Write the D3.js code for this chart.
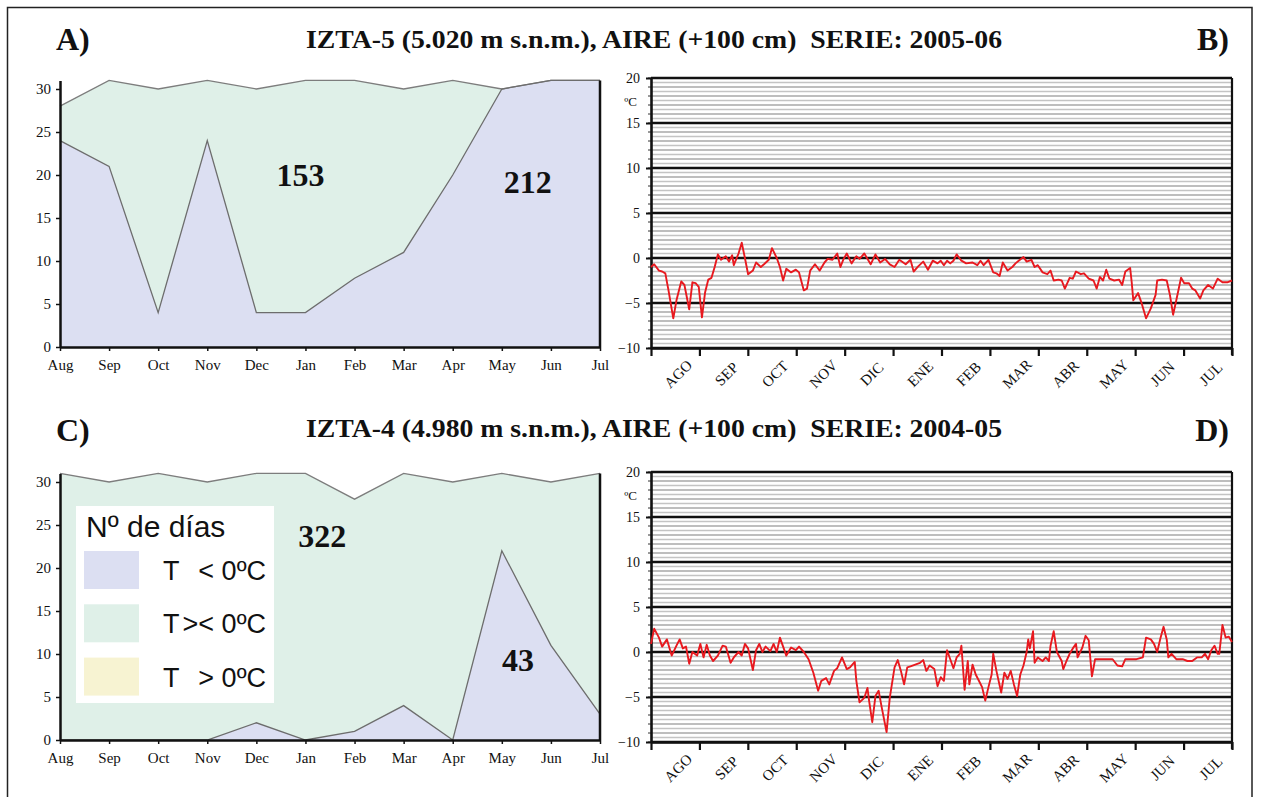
<!DOCTYPE html>
<html><head><meta charset="utf-8">
<script src="https://cdn.jsdelivr.net/npm/d3@7"></script>
<style>
body{margin:0;background:#fff}
svg{display:block}
text{font-family:"Liberation Serif","Times New Roman",serif;fill:#111}
</style>
</head><body><svg id="c" width="1261" height="797"></svg>
<script>
// ---------- data ----------
const months = ["Aug","Sep","Oct","Nov","Dec","Jan","Feb","Mar","Apr","May","Jun","Jul"];
const mesesEs = ["AGO","SEP","OCT","NOV","DIC","ENE","FEB","MAR","ABR","MAY","JUN","JUL"];
const dayTicks = [0,5,10,15,20,25,30];
const tempTicks = [20,15,10,5,0,-5,-10];

// IZTA-5 2005-06 : monthly number of days
const aTotal = [28,31,30,31,30,31,31,30,31,30,31,31];
const aBelow = [24,21,4,24,4,4,8,11,20,30,31,31];
// IZTA-4 2004-05
const cTotal = [31,30,31,30,31,31,28,31,30,31,30,31];
const cBelow = [0,0,0,0,2,0,1,4,0,22,11,3];

const annotA = [{t:"153", m:4.9, v:18.7},{t:"212", m:9.53, v:17.9}];
const annotC = [{t:"322", m:5.34, v:22.4},{t:"43", m:9.33, v:8.0}];

// daily air temperature (day of series, °C)
const bDay = [0,2,5,7,9,11,14,16,19,21,24,26,28,30,32,34,36,38,40,42,44,47,49,51,52,55,57,59,61,64,66,69,71,74,76,79,81,83,85,88,91,93,96,98,100,103,106,109,111,114,117,119,121,123,126,129,131,134,138,141,144,147,150,153,156,160,163,165,168,171,174,177,180,182,184,186,188,190,192,195,198,202,205,207,209,212,215,217,219,221,224,227,229,231,234,236,239,241,243,246,249,251,253,256,258,260,263,265,267,270,272,275,278,280,282,284,286,288,291,294,296,298,301,302,303,306,308,311,314,317,318,321,324,326,328,330,333,335,338,340,342,345,347,350,353,356,359,362,365];
const bTemp = [-1.0,-0.7,-1.4,-1.5,-1.7,-3.6,-6.7,-4.7,-2.6,-3.0,-5.7,-2.7,-2.8,-3.2,-6.6,-3.8,-2.4,-2.2,-1.0,0.4,-0.2,0.2,-0.4,0.3,-0.8,0.5,1.7,0.0,-1.8,-1.4,-0.5,-1.0,-0.7,-0.2,1.1,0.0,-1.0,-2.5,-1.2,-1.6,-1.3,-1.6,-3.6,-3.4,-1.4,-0.7,-1.4,-0.5,-0.1,-0.2,0.5,-1.0,-0.1,0.5,-0.6,0.2,-0.1,0.5,-0.7,0.4,-0.5,-0.1,-0.7,-1.0,-0.2,-0.7,-0.2,-1.5,-0.9,-0.4,-1.3,-0.3,-0.6,-0.3,-0.8,-0.3,-0.6,-0.3,0.4,-0.3,-0.6,-0.5,-0.8,-0.3,-0.8,-0.2,-1.6,-1.7,-2.0,-0.5,-1.4,-1.0,-0.6,-0.3,0.1,-0.4,-0.2,-1.0,-0.8,-1.6,-1.8,-1.4,-2.5,-2.4,-2.5,-3.4,-2.2,-2.3,-1.5,-1.8,-1.7,-2.3,-2.5,-3.4,-2.1,-2.5,-1.3,-2.3,-2.5,-2.4,-3.0,-1.5,-1.1,-2.7,-4.7,-3.9,-4.9,-6.7,-5.6,-4.1,-2.5,-2.4,-2.5,-4.1,-6.3,-4.7,-2.2,-2.8,-2.8,-3.4,-3.6,-4.5,-3.6,-3.0,-3.4,-2.3,-2.7,-2.7,-2.5];

const dDay = [0,2,5,7,10,13,16,18,20,22,24,26,29,31,33,35,37,39,42,45,47,50,52,55,57,59,61,64,66,68,70,72,75,77,79,81,83,85,88,91,93,96,99,102,105,107,110,112,115,117,120,123,125,128,129,131,134,136,137,139,141,143,145,148,150,153,155,157,159,161,163,166,169,171,173,175,178,180,182,184,186,188,190,192,194,195,197,199,200,202,204,206,208,210,212,214,215,217,220,222,224,226,228,230,232,234,236,237,238,240,241,243,246,248,250,251,253,255,258,259,261,263,265,267,268,271,273,275,277,279,282,286,290,293,296,298,302,305,309,311,314,316,318,320,322,324,325,327,330,334,337,340,343,346,348,350,352,354,356,357,359,361,363,365];
const dTemp = [0.9,2.6,1.6,0.6,1.4,-0.4,0.7,1.4,0.4,0.6,-1.3,0.0,-0.4,0.9,-0.6,0.8,-0.4,-1.0,-0.4,0.7,0.6,-1.2,-0.6,0.0,-0.4,0.9,0.4,-2.0,0.2,0.9,0.0,0.6,0.1,0.9,0.0,1.6,0.6,-0.4,0.5,0.2,0.6,0.0,-0.8,-2.3,-4.3,-3.2,-2.9,-3.6,-2.1,-1.8,-0.6,-1.9,-1.7,-1.1,-3.2,-5.6,-5.1,-4.0,-5.4,-7.8,-4.9,-4.3,-6.2,-8.9,-5.1,-1.7,-0.9,-2.1,-3.6,-1.7,-1.6,-1.4,-1.2,-0.9,-2.1,-1.5,-1.9,-3.8,-2.8,-3.2,0.2,-0.8,-1.8,-0.6,-0.2,0.7,-4.2,-1.0,-3.6,-1.4,-2.5,-3.2,-3.9,-5.4,-3.9,-2.5,-0.2,-2.1,-4.5,-2.3,-3.0,-2.1,-3.6,-4.9,-2.5,-1.5,0.0,1.4,0.4,2.3,-1.2,-0.6,-1.0,-0.6,-1.0,0.7,2.3,0.0,-1.0,-1.9,-1.0,-0.2,0.4,0.9,-0.6,0.5,1.8,1.3,-2.7,-0.8,-0.8,-0.8,-0.8,-1.5,-1.6,-0.8,-0.8,-0.8,-0.6,1.6,1.4,0.9,0.0,1.5,2.8,1.4,-0.6,-0.2,-0.8,-0.8,-1.0,-1.0,-0.6,-0.6,-0.2,-0.8,0.2,0.7,-0.2,-0.2,3.0,1.6,1.7,1.1];

const titles = ["IZTA-5 (5.020 m s.n.m.), AIRE (+100 cm)  SERIE: 2005-06",
                "IZTA-4 (4.980 m s.n.m.), AIRE (+100 cm)  SERIE: 2004-05"];
const legendItems = [{label:"< 0ºC", color:"#dcdff2"},
                     {label:">< 0ºC", color:"#dff0e8"},
                     {label:"> 0ºC", color:"#f7f3d2"}];

// ---------- drawing ----------
const svg = d3.select("#c");
const C_BELOW = "#dcdff2", C_MID = "#dff0e8";

// outer frame
svg.append("rect").attr("x",7.5).attr("y",7.5).attr("width",1244.5).attr("height",840)
  .attr("fill","none").attr("stroke","#222").attr("stroke-width",1.5);

function daysPanel(total, below, bottom, annots){
  const g = svg.append("g");
  const x = d3.scalePoint().domain(months).range([60,600]);
  const y = d3.scaleLinear().domain([0,31]).range([bottom, bottom - 31*8.6]);
  const area = d3.area().x((d,i)=>x(months[i])).y0(y(0)).y1(d=>y(d));
  const line = d3.line().x((d,i)=>x(months[i])).y(d=>y(d));
  g.append("path").datum(total).attr("d",area).attr("fill",C_MID);
  g.append("path").datum(below).attr("d",area).attr("fill",C_BELOW);
  g.append("path").datum(total).attr("d",line).attr("fill","none").attr("stroke","#7d7d7d").attr("stroke-width",1.3);
  g.append("path").datum(below).attr("d",line).attr("fill","none").attr("stroke","#6d6d6d").attr("stroke-width",1.3);
  g.append("line").attr("x1",600).attr("x2",600).attr("y1",y(0)).attr("y2",y(31))
    .attr("stroke","#111").attr("stroke-width",2.5);
  const ya = g.append("g").attr("transform","translate(60,0)")
    .call(d3.axisLeft(y).tickValues(dayTicks).tickSize(4).tickSizeOuter(0).tickPadding(5));
  const xa = g.append("g").attr("transform",`translate(0,${bottom})`)
    .call(d3.axisBottom(x).tickSize(4).tickSizeOuter(0).tickPadding(8));
  [ya,xa].forEach(a=>{
    a.select(".domain").attr("stroke","#111").attr("stroke-width",2.5);
    a.selectAll(".tick line").attr("stroke","#111").attr("stroke-width",1.5);
    a.selectAll("text").style("font-family","'Liberation Serif',serif").style("font-size","15px").attr("fill","#222");
  });
  annots.forEach(a=>{
    g.append("text").attr("x",60 + a.m*(540/11)).attr("y",y(a.v)).attr("text-anchor","middle")
      .style("font-size","32px").style("font-weight","bold").text(a.t);
  });
}

function tempPanel(days, temps, bottom){
  const g = svg.append("g");
  const x0 = 651, x1 = 1232;
  const xd = d3.scaleLinear().domain([0,365]).range([x0,x1]);
  const xm = d3.scaleLinear().domain([0,12]).range([x0,x1]);
  const y = d3.scaleLinear().domain([-10,20]).range([bottom, bottom-270]);
  const minor = d3.range(-20,41).map(v=>v/2).filter(v=>v%5!==0);
  g.selectAll(".gl").data(minor).enter().append("line")
    .attr("x1",x0).attr("x2",x1).attr("y1",d=>y(d)).attr("y2",d=>y(d))
    .attr("stroke", d=>Number.isInteger(d)?"#a9a9a9":"#c4c4c4").attr("stroke-width",1.5);
  g.selectAll(".gm").data(tempTicks).enter().append("line")
    .attr("x1",x0).attr("x2",x1).attr("y1",d=>y(d)).attr("y2",d=>y(d))
    .attr("stroke","#111").attr("stroke-width",2.6);
  g.selectAll(".mt").data(d3.range(-10,21)).enter().append("line")
    .attr("x1",x0-3).attr("x2",x0).attr("y1",d=>y(d)).attr("y2",d=>y(d))
    .attr("stroke","#333").attr("stroke-width",1);
  g.append("line").attr("x1",x1).attr("x2",x1).attr("y1",y(20)).attr("y2",y(-10)+7)
    .attr("stroke","#111").attr("stroke-width",2.2);
  const ya = g.append("g").attr("transform",`translate(${x0},0)`)
    .call(d3.axisLeft(y).tickValues(tempTicks).tickSize(5).tickSizeOuter(0).tickPadding(6));
  ya.select(".domain").attr("stroke","#111").attr("stroke-width",2.6);
  ya.selectAll(".tick line").attr("stroke","#111").attr("stroke-width",2);
  ya.selectAll("text").style("font-family","'Liberation Serif',serif").style("font-size","14px").attr("fill","#222");
  const xa = g.append("g").attr("transform",`translate(0,${bottom})`)
    .call(d3.axisBottom(xm).tickValues(d3.range(0,13)).tickSize(8).tickSizeOuter(0).tickFormat(""));
  xa.select(".domain").attr("stroke","#111").attr("stroke-width",2.6);
  xa.selectAll(".tick line").attr("stroke","#111").attr("stroke-width",2.2);
  g.selectAll(".ml").data(mesesEs).enter().append("text")
    .attr("transform",(d,i)=>`translate(${xm(i+0.5)+3},${bottom+26}) rotate(-45)`)
    .attr("text-anchor","middle").attr("dominant-baseline","central")
    .style("font-size","15px").attr("fill","#222").text(d=>d);
  g.append("text").attr("x",637).attr("y",y(20)+28).attr("text-anchor","end")
    .style("font-size","13px").attr("fill","#222").text("ºC");
  const pts = days.map((d,i)=>[d,temps[i]]);
  g.append("path").datum(pts)
    .attr("d",d3.line().x(d=>xd(d[0])).y(d=>y(d[1])))
    .attr("fill","none").attr("stroke","#e8191f").attr("stroke-width",1.9).attr("stroke-linejoin","round");
}

daysPanel(aTotal, aBelow, 347, annotA);
daysPanel(cTotal, cBelow, 740, annotC);
tempPanel(bDay, bTemp, 348);
tempPanel(dDay, dTemp, 742);

// legend (panel C)
const lg = svg.append("g");
lg.append("rect").attr("x",76).attr("y",506).attr("width",198).attr("height",197).attr("fill","#fff");
lg.append("text").attr("x",86).attr("y",537).style("font-family","'Liberation Sans',Arial,sans-serif")
  .style("font-size","30px").text("Nº de días");
legendItems.forEach((it,i)=>{
  const cy = 570 + i*53.3;
  lg.append("rect").attr("x",84).attr("y",cy-19).attr("width",55).attr("height",38).attr("fill",it.color);
  lg.append("text").attr("x",163).attr("y",cy+10).style("font-family","'Liberation Sans',Arial,sans-serif")
    .style("font-size","27px").text("T");
  lg.append("text").attr("x",266).attr("y",cy+10).attr("text-anchor","end").style("font-family","'Liberation Sans',Arial,sans-serif")
    .style("font-size","27px").text(it.label);
});

// titles
[[48,0],[437,1]].forEach(([yb,i])=>{
  svg.append("text").attr("x",654).attr("y",yb).attr("text-anchor","middle")
    .attr("textLength",696).attr("lengthAdjust","spacingAndGlyphs")
    .style("font-size","26px").style("font-weight","bold").style("white-space","pre").text(titles[i]);
});
[["A)",56,50,"start"],["B)",1229,50,"end"],["C)",56,441,"start"],["D)",1229,441,"end"]].forEach(([t,x,y,a])=>{
  svg.append("text").attr("x",x).attr("y",y).attr("text-anchor",a)
    .style("font-size","32px").style("font-weight","bold").text(t);
});
</script>
</body></html>
